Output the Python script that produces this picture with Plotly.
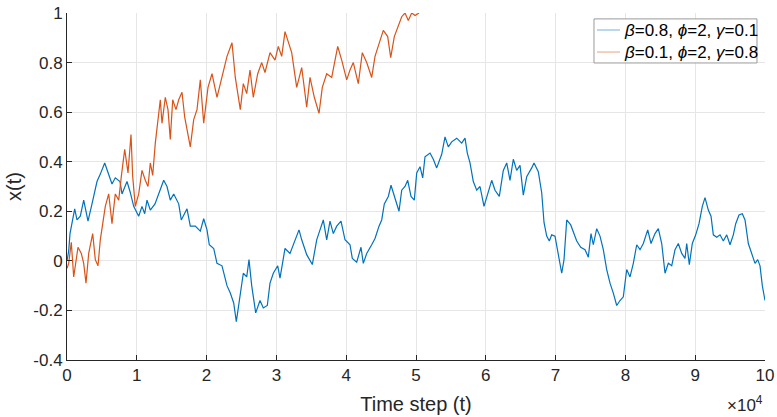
import plotly.graph_objects as go

# Trajectory of x(t) for beta=0.8, phi=2, gamma=0.1
t_a = [0, 244, 430, 1103, 1433, 1905, 2393, 3009, 3582, 4298, 4771, 5401, 6447, 6920,
       7593, 7880, 8596, 9026, 9556, 10272, 10745, 11132, 11462, 11934, 12608, 13138,
       13854, 14327, 14800, 15287, 16003, 16376, 17192, 17665, 18381, 19098, 19585,
       20058, 20387, 21018, 21490, 22207, 22923, 23396, 23883, 24256, 24786, 25259,
       25746, 26075, 26462, 27035, 27651, 28124, 28697, 29084, 29557, 30187, 30517,
       31233, 31949, 32666, 33239, 33626, 34342, 35144, 35775, 36247, 36720, 37207,
       37680, 38153, 38640, 39256, 39829, 40545, 40875, 41505, 42121, 42451, 42938,
       43654, 44127, 44700, 45087, 45460, 46033, 46420, 46893, 47566, 47953, 48425,
       48812, 49285, 49758, 50102, 50574, 50961, 51291, 52007, 52480, 52967, 53684,
       54157, 54629, 55116, 55833, 56549, 57022, 57351, 57738, 58211, 58698, 59170,
       59744, 60216, 60847, 61320, 61936, 62509, 62996, 63469, 63941, 64428, 64901,
       65374, 65861, 66578, 66907, 67523, 68010, 68340, 68727, 69099, 69443, 69916,
       70389, 70876, 71206, 71593, 72166, 72538, 73026, 73599, 74214, 74687, 75073,
       75403, 75890, 76363, 76836, 77323, 77796, 78269, 78756, 79228, 79701, 80188,
       80661, 81134, 81621, 82094, 82567, 83197, 83670, 84243, 84716, 85203, 85676,
       86149, 86636, 87109, 87581, 88069, 88541, 88785, 89157, 89587, 90074, 90547,
       91020, 91407, 91879, 92266, 92596, 93083, 93556, 94028, 94516, 94988, 95461,
       95805, 96277, 96750, 97137, 97610, 98097, 98570, 98957, 99286, 99616, 100000]
x_a = [0.0, 0.04, 0.11, 0.21, 0.165, 0.18, 0.245, 0.16, 0.23, 0.32, 0.35, 0.395, 0.31, 0.335,
       0.32, 0.27, 0.32, 0.28, 0.22, 0.18, 0.22, 0.19, 0.245, 0.205, 0.23, 0.27,
       0.325, 0.30, 0.245, 0.27, 0.23, 0.165, 0.21, 0.14, 0.14, 0.12, 0.17,
       0.125, 0.065, 0.05, -0.01, -0.02, -0.10, -0.13, -0.17, -0.245, -0.13, -0.05,
       -0.065, 0.005, -0.10, -0.21, -0.16, -0.19, -0.18, -0.09, -0.05, -0.02, -0.07,
       0.05, 0.03, 0.085, 0.125, 0.085, 0.025, -0.015, 0.085, 0.125, 0.165, 0.085,
       0.16, 0.11, 0.14, 0.16, 0.085, 0.065, 0.01, -0.005, 0.055, -0.01, 0.03,
       0.065, 0.09, 0.14, 0.165, 0.23, 0.26, 0.305, 0.26, 0.20, 0.285, 0.30,
       0.325, 0.26, 0.245, 0.355, 0.38, 0.335, 0.42, 0.435, 0.41, 0.375, 0.43,
       0.50, 0.46, 0.48, 0.495, 0.475, 0.495, 0.435, 0.395, 0.32, 0.285, 0.30,
       0.22, 0.265, 0.325, 0.285, 0.26, 0.365, 0.395, 0.325, 0.41, 0.365, 0.385,
       0.265, 0.34, 0.375, 0.395, 0.36, 0.275, 0.155, 0.10, 0.08, 0.105, 0.10,
       0.03, -0.05, 0.005, 0.165, 0.145, 0.12, 0.08, 0.055, 0.045, 0.015, 0.11,
       0.065, 0.13, 0.10, 0.045, -0.035, -0.09, -0.13, -0.18, -0.16, -0.145, -0.035,
       -0.065, -0.01, 0.065, 0.045, 0.07, 0.125, 0.07, 0.11, 0.13, 0.07, -0.05,
       -0.01, -0.02, 0.045, 0.07, 0.03, 0.01, 0.07, -0.015, 0.07, 0.105, 0.15,
       0.22, 0.255, 0.205, 0.18, 0.105, 0.095, 0.105, 0.08, 0.105, 0.065, 0.105,
       0.15, 0.185, 0.19, 0.165, 0.07, 0.03, -0.01, 0.005, -0.02, -0.10, -0.16]

# Trajectory of x(t) for beta=0.1, phi=2, gamma=0.8
t_b = [0, 244, 616, 960, 1576, 2049, 2393, 2722, 3109, 3682, 4055, 4441, 4771, 5115,
       5487, 5974, 6447, 6920, 7407, 7780, 8267, 8739, 9169, 9413, 9785, 10272,
       10745, 11218, 11605, 11934, 12278, 12651, 13038, 13367, 13611, 14083, 14470,
       14800, 15144, 15616, 16003, 16476, 16863, 17436, 17665, 18152, 18625, 19098,
       19585, 20201, 20774, 21490, 21963, 22450, 22923, 23639, 24112, 24829, 25259,
       25746, 26218, 26691, 27322, 27895, 28367, 29084, 29800, 30273, 30760, 31233,
       31706, 32193, 32909, 33626, 34342, 34815, 35431, 36104, 36577, 37207, 37924,
       38296, 38783, 39356, 40072, 40545, 41018, 41734, 42307, 42938, 43654, 44127,
       44843, 45316, 45946, 46376, 46893, 47466, 47953, 48425, 48898, 49385, 49858,
       50430]
x_b = [-0.03, -0.01, 0.075, -0.065, 0.055, 0.03, -0.01, -0.09, 0.03, 0.11, 0.005, -0.02,
       0.085, 0.15, 0.22, 0.27, 0.15, 0.27, 0.245, 0.34, 0.45, 0.355, 0.51, 0.34,
       0.22, 0.27, 0.365, 0.325, 0.30, 0.395, 0.345, 0.475, 0.57, 0.65, 0.555,
       0.66, 0.61, 0.49, 0.65, 0.61, 0.65, 0.68, 0.58, 0.50, 0.46, 0.57, 0.61,
       0.73, 0.555, 0.70, 0.755, 0.66, 0.715, 0.78, 0.825, 0.88, 0.74, 0.61,
       0.715, 0.675, 0.77, 0.66, 0.755, 0.80, 0.76, 0.84, 0.81, 0.865, 0.825,
       0.925, 0.88, 0.84, 0.70, 0.78, 0.62, 0.74, 0.66, 0.595, 0.70, 0.755,
       0.74, 0.80, 0.865, 0.81, 0.73, 0.77, 0.80, 0.715, 0.84, 0.80, 0.74,
       0.825, 0.89, 0.93, 0.905, 0.82, 0.905, 0.945, 0.985, 1.0, 0.97, 1.0,
       0.99, 1.0]

x_ticks = [0, 10000, 20000, 30000, 40000, 50000, 60000, 70000, 80000, 90000, 100000]
x_tick_text = ["0", "1", "2", "3", "4", "5", "6", "7", "8", "9", "10"]
y_ticks = [-0.4, -0.2, 0, 0.2, 0.4, 0.6, 0.8, 1]
y_tick_text = ["-0.4", "-0.2", "0", "0.2", "0.4", "0.6", "0.8", "1"]

series_names = ["<i>β</i>=0.8, <i>ϕ</i>=2, <i>γ</i>=0.1",
                "<i>β</i>=0.1, <i>ϕ</i>=2, <i>γ</i>=0.8"]
series_colors = ["#0072BD", "#D95319"]

FONT = "Liberation Sans, Arial, sans-serif"
AXIS_COLOR = "#262626"
GRID_COLOR = "#e6e6e6"

fig = go.Figure()
for t, x, name, color in zip([t_a, t_b], [x_a, x_b], series_names, series_colors):
    fig.add_trace(go.Scatter(x=t, y=x, mode="lines", name=name, showlegend=False,
                             line=dict(color=color, width=1.2)))

fig.update_layout(
    width=777, height=417,
    margin=dict(l=67, r=12, t=13, b=57),
    paper_bgcolor="white", plot_bgcolor="white",
    font=dict(family=FONT, size=17, color=AXIS_COLOR),
    xaxis=dict(range=[0, 100000], tickvals=x_ticks, ticktext=x_tick_text,
               showgrid=True, gridcolor=GRID_COLOR, gridwidth=1,
               showline=True, linecolor=AXIS_COLOR, linewidth=1,
               ticks="inside", ticklen=5, tickcolor=AXIS_COLOR,
               zeroline=False, mirror=False, automargin=False,
               title=dict(text="Time step (t)", font=dict(size=20), standoff=12)),
    yaxis=dict(range=[-0.4, 1], tickvals=y_ticks, ticktext=y_tick_text,
               showgrid=True, gridcolor=GRID_COLOR, gridwidth=1,
               showline=True, linecolor=AXIS_COLOR, linewidth=1,
               ticks="inside", ticklen=5, tickcolor=AXIS_COLOR,
               zeroline=False, mirror=False, automargin=False,
               title=dict(text="x(t)", font=dict(size=20), standoff=6)),
)

# Compact legend box in the upper-right corner
LEG_X0, LEG_X1, LEG_Y0, LEG_Y1 = 0.755, 0.9885, 0.856, 0.983
fig.add_shape(type="rect", xref="paper", yref="paper",
              x0=LEG_X0, x1=LEG_X1, y0=LEG_Y0, y1=LEG_Y1,
              fillcolor="white", line=dict(color="#9a9a9a", width=1), layer="above")
for row, (name, color) in enumerate(zip(series_names, series_colors)):
    y_row = 0.951 - row * 0.0635
    fig.add_shape(type="line", xref="paper", yref="paper",
                  x0=0.7593, x1=0.7923, y0=y_row, y1=y_row,
                  line=dict(color=color, width=1.2), opacity=0.45, layer="above")
    fig.add_annotation(text=name, xref="paper", yref="paper",
                       x=0.7945, y=y_row, xanchor="left", yanchor="middle",
                       showarrow=False, font=dict(size=17, color="#000000"))

# Exponent marker for the x-axis scale
fig.add_annotation(text="×10<sup>4</sup>", xref="paper", yref="paper",
                   x=1.0, y=-0.088, xanchor="right", yanchor="top",
                   showarrow=False, font=dict(size=17, color=AXIS_COLOR))

fig.write_html("out.html")
